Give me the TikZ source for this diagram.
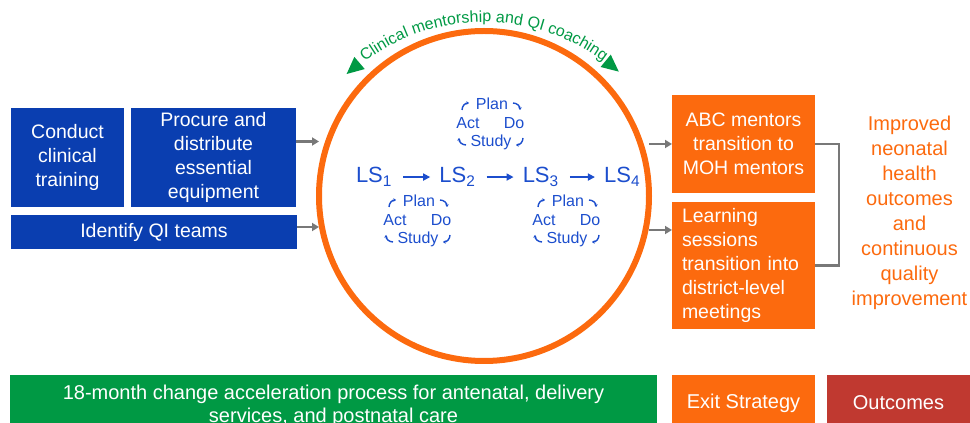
\documentclass[tikz,border=0pt]{standalone}
\usepackage{fontspec}
\setmainfont{Liberation Sans}
\usetikzlibrary{positioning, arrows.meta, decorations.text}

\definecolor{abcblue}{RGB}{10,62,176}
\definecolor{lsblue}{RGB}{28,78,205}
\definecolor{exitorange}{RGB}{252,106,14}
\definecolor{qigreen}{RGB}{0,153,68}
\definecolor{outred}{RGB}{192,57,48}
\definecolor{linkgray}{RGB}{120,120,120}

\newcommand{\boxfont}{\fontsize{19.5}{24}\selectfont}
\newcommand{\goalfont}{\fontsize{20}{25}\selectfont}
\newcommand{\barfont}{\fontsize{20}{22.5}\selectfont}
\newcommand{\lsfont}{\fontsize{22}{24}\selectfont}
\newcommand{\pdsafont}{\fontsize{16}{19}\selectfont}
\newcommand{\arcfont}{\fontsize{16}{19}\selectfont\color{qigreen}}

\tikzstyle{block} = [rectangle, inner sep=0pt, outer sep=0pt, text=white, align=center, font=\boxfont]
\tikzstyle{bluebox} = [block, fill=abcblue]
\tikzstyle{orangebox} = [block, fill=exitorange]
\tikzstyle{barbox} = [block, minimum height=56pt, font=\barfont]
\tikzstyle{link} = [line width=2.5pt, draw=linkgray, -{Triangle[length=7pt,width=8pt]}]
\tikzstyle{lstext} = [inner sep=0pt, text=lsblue, font=\lsfont]
\tikzstyle{lsarrow} = [line width=1.6pt, draw=lsblue, -{Triangle[length=7pt,width=7pt]}, shorten <=11pt, shorten >=9pt]
\tikzstyle{pdsatext} = [inner sep=0pt, text=lsblue, font=\pdsafont, text height=11.5pt, text depth=3.5pt]
\tikzstyle{hook} = [line width=1.4pt, draw=lsblue, -{Stealth[length=2.5pt,width=3.5pt]}]

% one Plan-Do-Study-Act cycle: name, x, y of its centre
\newcommand{\pdsa}[3]{%
  \node (#1plan) [pdsatext] at (#2+1,#3+19) {Plan};
  \node (#1act) [pdsatext] at (#2-23,#3) {Act};
  \node (#1do) [pdsatext] at (#2+23,#3) {Do};
  \node (#1study) [pdsatext] at (#2,#3-18) {Study};
  \draw [hook] (#2+22,#3+22) arc (90:0:7);
  \draw [hook] (#2+32,#3-13) arc (0:-90:7);
  \draw [hook] (#2-25,#3-20) arc (270:180:7);
  \draw [hook] (#2-29,#3+15) arc (180:90:7);
}

\begin{document}
\begin{tikzpicture}[x=1pt, y=1pt]
\useasboundingbox (0,0) rectangle (970,423);

% Inputs
\node (train) [bluebox, minimum width=113pt, minimum height=99pt] at (67.5,265.5) {Conduct\\clinical\\training};
\node (procure) [bluebox, minimum width=165pt, minimum height=99pt, right=7pt of train] {Procure and\\distribute\\essential\\equipment};
\node (qiteams) [bluebox, minimum width=286pt, minimum height=34pt, anchor=north west] at ([yshift=-8pt]train.south west) {Identify QI teams};

% Change acceleration loop
\node (loop) [circle, draw=exitorange, line width=6pt, minimum size=330pt, inner sep=0pt, outer sep=0pt] at (484,227) {};
\coordinate (arccentre) at ([yshift=-25pt]loop.center);

% Mentorship label along the loop
\path [decorate, decoration={text along path, text align=center, text={|\arcfont|Clinical mentorship and QI coaching}}]
  ([shift={(arccentre)}]150:199) arc [start angle=150, end angle=30, radius=199];
\fill [qigreen, shift={(arccentre)}, rotate=130.5] (201,9) -- (193,-8) -- (209,-8) -- cycle;
\fill [qigreen, shift={(arccentre)}, rotate=50.5] (201,-9) -- (193,8) -- (209,8) -- cycle;

% Learning sessions
\node (ls1) [lstext, anchor=base] at (374,240) {LS\textsubscript{1}};
\node (ls2) [lstext, right=47pt of ls1] {LS\textsubscript{2}};
\node (ls3) [lstext, right=47pt of ls2] {LS\textsubscript{3}};
\node (ls4) [lstext, right=45pt of ls3] {LS\textsubscript{4}};
\draw [lsarrow] (ls1.east) -- (ls2.west);
\draw [lsarrow] (ls2.east) -- (ls3.west);
\draw [lsarrow] (ls3.east) -- (ls4.west);

% PDSA cycles
\pdsa{top}{491}{298}
\pdsa{left}{418}{201}
\pdsa{right}{567}{201}

% Exit strategy
\node (abc) [orangebox, minimum width=143pt, minimum height=98pt] at (743.5,279) {ABC mentors\\transition to\\MOH mentors};
\node (learn) [orangebox, minimum width=143pt, minimum height=127pt, below=9pt of abc, align=left, text width=123pt] {Learning\\sessions\\transition into\\district-level\\meetings};

% Outcome
\node (goal) [text=exitorange, font=\goalfont, align=center] at (909.5,210.5) {Improved\\neonatal\\health\\outcomes\\and\\continuous\\quality\\improvement};

% Arrows into and out of the loop
\coordinate (procureout) at ([yshift=16pt]procure.east);
\coordinate (qiout) at ([yshift=5pt]qiteams.east);
\coordinate (learnin) at ([yshift=35.5pt]learn.west);
\draw [link] (procureout) -- (procureout -| loop.west);
\draw [link] (qiout) -- (qiout -| loop.west);
\draw [link] (loop.east |- abc.west) -- (abc.west);
\draw [link] (loop.east |- learnin) -- (learnin);
\draw [line width=2.5pt, draw=linkgray] (abc.east) -- ++(24,0) |- (learn.east);

% Phase bars
\node (process) [barbox, fill=qigreen, minimum width=647pt, minimum height=62pt] at (333.5,17) {18-month change acceleration process for antenatal, delivery\\services, and postnatal care};
\node (exit) [barbox, fill=exitorange, minimum width=143pt] at (743.5,20) {Exit Strategy};
\node (outcomes) [barbox, fill=outred, minimum width=143pt] at (898.5,20) {Outcomes};

\end{tikzpicture}
\end{document}
